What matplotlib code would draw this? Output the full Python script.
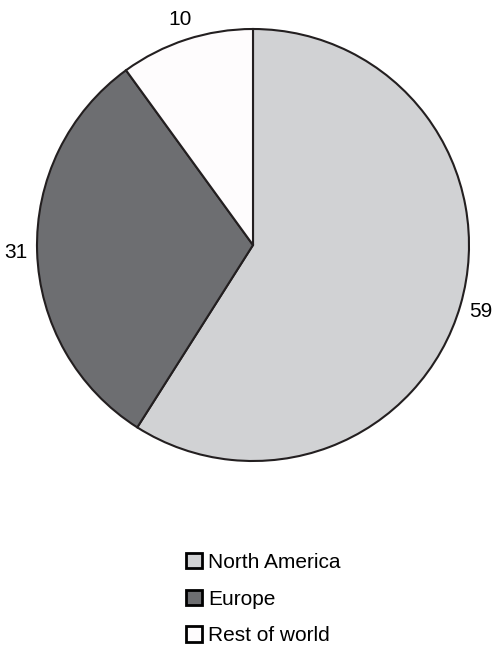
import matplotlib
matplotlib.use("Agg")
from matplotlib import pyplot as plt
from matplotlib.patches import Patch

labels = ["North America", "Europe", "Rest of world"]
values = [59, 31, 10]
colors = ["#d1d2d4", "#6d6e71", "#fefcfd"]
edge = "#231f20"

plt.rcParams['font.family'] = ['Liberation Sans', 'DejaVu Sans']

fig = plt.figure(figsize=(4.94, 6.48), dpi=100)
ax = fig.add_axes([37/494, (648-245-216)/648, 432/494, 432/648])

wedges, texts = ax.pie(values, colors=colors, startangle=90, counterclock=False,
                       labels=[str(v) for v in values], labeldistance=1.1,
                       wedgeprops=dict(edgecolor=edge, linewidth=1.5),
                       textprops=dict(fontsize=15, color="black"))
for t in texts:
    t.set_ha("center")
    t.set_va("center")
ax.set_xlim(-1, 1)
ax.set_ylim(-1, 1)
ax.set_aspect("equal")
ax.axis("off")

handles = [Patch(facecolor=c, edgecolor="black", linewidth=2) for c in colors]
fig.legend(handles, labels, loc="center", bbox_to_anchor=(0.533, 0.0755),
           frameon=False, fontsize=15, handlelength=0.75, handleheight=0.75,
           handletextpad=0.3, labelspacing=0.85)

fig.savefig("out.png", dpi=100)
